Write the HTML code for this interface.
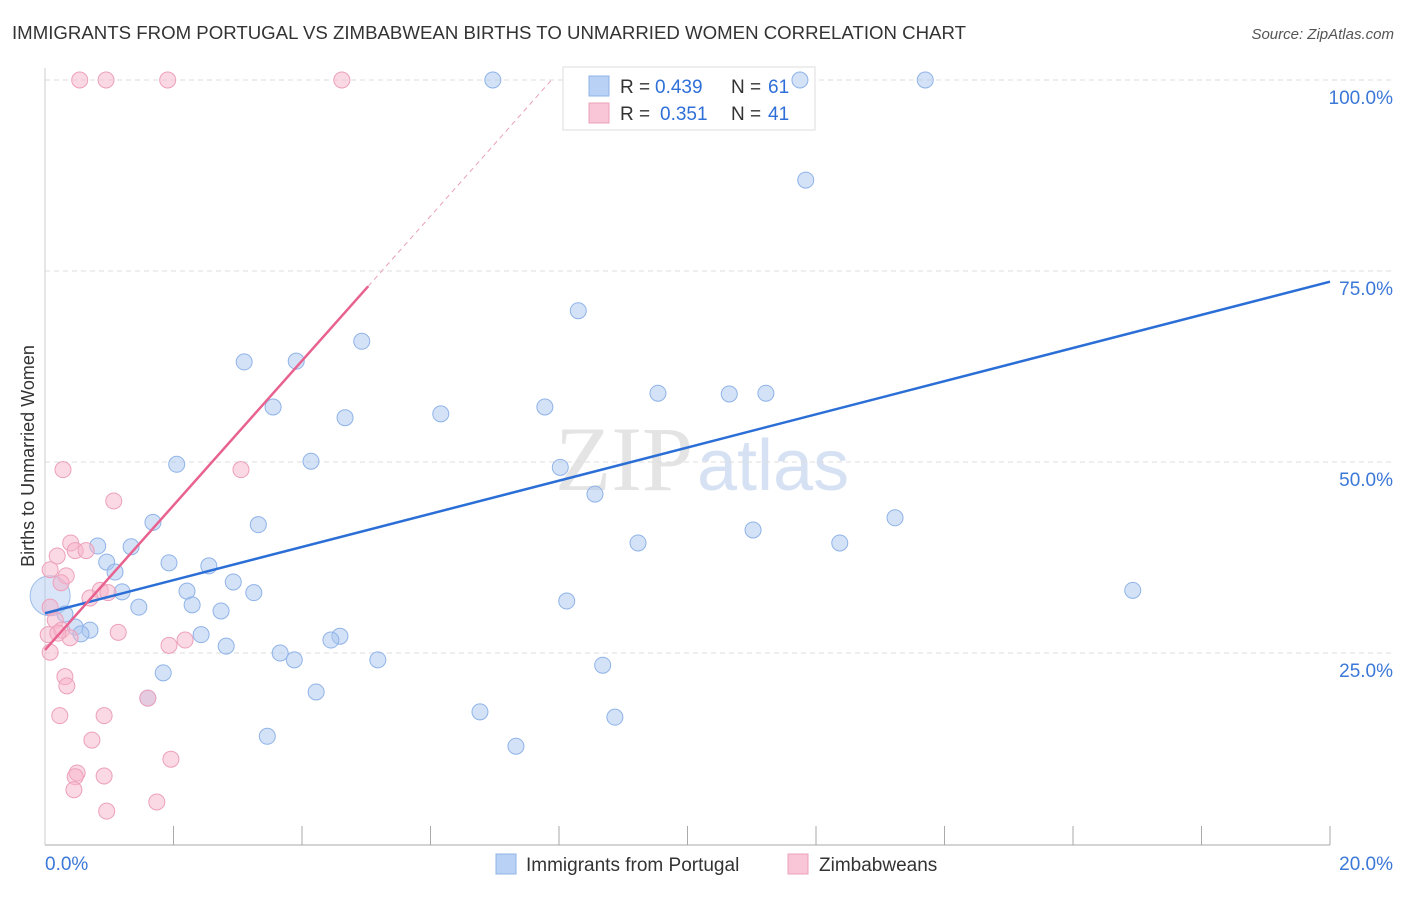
<!DOCTYPE html>
<html><head><meta charset="utf-8"><style>
body{margin:0;background:#fff;font-family:"Liberation Sans",sans-serif;}
</style></head><body>
<svg id="chart" width="1406" height="892" xmlns="http://www.w3.org/2000/svg" font-family="Liberation Sans, sans-serif">
<text x="12" y="39" font-size="18" fill="#333" textLength="954" lengthAdjust="spacingAndGlyphs">IMMIGRANTS FROM PORTUGAL VS ZIMBABWEAN BIRTHS TO UNMARRIED WOMEN CORRELATION CHART</text>
<text x="1394" y="39" font-size="15" fill="#555" text-anchor="end" font-style="italic">Source: ZipAtlas.com</text>
<text x="555" y="490" font-size="92" fill="#e4e4e4" font-family="Liberation Serif, serif">ZIP<tspan fill="#d6e2f3" font-family="Liberation Sans, sans-serif" font-size="72" dx="4">atlas</tspan></text>
<text transform="translate(34,456) rotate(-90)" font-size="18" fill="#333" text-anchor="middle">Births to Unmarried Women</text>
<g id="grid"></g>
<g>
<rect x="563" y="67" width="252" height="63" fill="#fff" stroke="#ddd"/>
<rect x="589" y="76" width="20" height="20" fill="#b9d1f5" stroke="#8fb3e8"/>
<rect x="589" y="103" width="20" height="20" fill="#f8c6d6" stroke="#eda0bb"/>
<text x="620" y="93" font-size="19" fill="#333">R =</text>
<text x="655" y="93" font-size="19" fill="#2e6fd8">0.439</text>
<text x="731" y="93" font-size="19" fill="#333">N =</text>
<text x="768" y="93" font-size="19" fill="#2e6fd8">61</text>
<text x="620" y="120" font-size="19" fill="#333">R =</text>
<text x="660" y="120" font-size="19" fill="#2e6fd8">0.351</text>
<text x="731" y="120" font-size="19" fill="#333">N =</text>
<text x="768" y="120" font-size="19" fill="#2e6fd8">41</text>
</g>
<g id="marks"></g>
<g>
<rect x="496" y="854" width="20" height="20" fill="#b9d1f5" stroke="#8fb3e8"/>
<text x="526" y="871" font-size="19" fill="#333">Immigrants from Portugal</text>
<rect x="788" y="854" width="20" height="20" fill="#f8c6d6" stroke="#eda0bb"/>
<text x="819" y="871" font-size="19" fill="#333">Zimbabweans</text>
</g>
</svg>
<script>
const yTicks=[25,50,75,100];
const yTickLabels=["25.0%","50.0%","75.0%","100.0%"];
const xTicks=[2,4,6,8,10,12,14,16,18,20];
const blueX=[6.97,11.75,13.70,11.84,8.30,4.93,3.91,3.10,3.55,4.67,6.16,7.78,9.54,10.65,11.22,2.05,4.14,8.02,8.56,1.68,3.32,11.02,13.23,9.23,12.37,0.82,1.34,0.96,1.93,1.09,2.55,2.93,1.20,2.21,3.25,1.46,2.29,2.74,16.93,8.12,0.31,0.47,0.70,0.56,2.43,2.82,4.59,4.45,3.66,3.88,5.18,8.68,1.84,4.22,1.60,6.77,8.87,3.46,7.33];
const blueY=[100,100,100,86.9,69.8,65.8,63.2,63.1,57.2,55.8,56.3,57.2,59.0,58.9,59.0,49.7,50.1,49.3,45.8,42.1,41.8,41.1,42.7,39.4,39.4,39.0,38.9,36.9,36.8,35.6,36.4,34.3,33.0,33.1,32.9,31.0,31.3,30.5,33.2,31.8,30.1,28.4,28.0,27.5,27.4,25.9,27.2,26.7,25.0,24.1,24.1,23.4,22.4,19.9,19.1,17.3,16.6,14.1,12.8];
const pinkX=[0.54,0.95,1.91,4.62,0.28,3.05,1.07,0.40,0.19,0.47,0.64,0.08,0.33,0.25,0.86,0.70,0.98,0.08,0.16,0.26,0.05,0.39,0.20,1.14,2.18,1.93,0.08,0.31,0.34,0.23,0.92,0.73,1.60,1.96,0.50,0.92,0.47,0.45,1.74,0.96];
const pinkY=[100,100,100,100,49.0,49.0,44.9,39.4,37.7,38.4,38.4,35.9,35.1,34.2,33.2,32.2,32.9,31.0,29.3,28.0,27.4,27.0,27.6,27.7,26.7,26.0,25.1,21.9,20.7,16.8,16.8,13.6,19.1,11.1,9.3,8.9,8.8,7.1,5.5,4.3];
const blueTrend=[30.2,73.6];
const pinkTrend=[25.4,73.0];
const pinkTrendEnd=5.03;
const NS="http://www.w3.org/2000/svg";
const sx=v=>45+v*64.25, sy=v=>844-v*7.64;
function mk(parent,tag,attrs){const e=document.createElementNS(NS,tag);for(const k in attrs)e.setAttribute(k,attrs[k]);parent.appendChild(e);return e;}
const grid=document.getElementById('grid'), marks=document.getElementById('marks');
yTicks.forEach((t,i)=>{
 const l=mk(grid,'line',{x1:45,x2:1393,y1:sy(t),y2:sy(t),stroke:'#ddd','stroke-dasharray':'5,4'});
 
 
 const tx=mk(grid,'text',{x:1393,y:sy(t)+24,'font-size':19,fill:'#3b78d8','text-anchor':'end'});
 tx.textContent=yTickLabels[i];
 
 
});
const ax=mk(grid,'line',{x1:45,x2:1330,y1:845,y2:845,stroke:'#aaa'});


const ay=mk(grid,'line',{x1:45,x2:45,y1:68,y2:845,stroke:'#ccc'});


xTicks.forEach(t=>{
 const l=mk(grid,'line',{x1:sx(t),x2:sx(t),y1:826,y2:845,stroke:'#aaa'});
 
 
});
const x0=mk(grid,'text',{x:45,y:870,'font-size':19,fill:'#3b78d8'});x0.textContent='0.0%';


const x1=mk(grid,'text',{x:1393,y:870,'font-size':19,fill:'#3b78d8','text-anchor':'end'});x1.textContent='20.0%';


const big=mk(marks,'circle',{cx:sx(0.08),cy:sy(32.5),r:20,fill:'rgba(170,198,240,0.45)',stroke:'#9dbde9'});


blueX.forEach((v,i)=>{
 const c=mk(marks,'circle',{cx:sx(v),cy:sy(blueY[i]),r:8,fill:'rgba(170,198,240,0.5)',stroke:'#8fb3e8','stroke-width':1});
 
 
});
pinkX.forEach((v,i)=>{
 const c=mk(marks,'circle',{cx:sx(v),cy:sy(pinkY[i]),r:8,fill:'rgba(246,180,202,0.5)',stroke:'#eda0bb','stroke-width':1});
 
 
});
const bt=mk(marks,'line',{x1:sx(0),y1:sy(blueTrend[0]),x2:sx(20),y2:sy(blueTrend[1]),stroke:'#2b6fd6','stroke-width':2.5});


const slope=(pinkTrend[1]-pinkTrend[0])/pinkTrendEnd;
const pt=mk(marks,'line',{x1:sx(0),y1:sy(pinkTrend[0]),x2:sx(pinkTrendEnd),y2:sy(pinkTrend[1]),stroke:'#e8628f','stroke-width':2.5});


const xe=(100-pinkTrend[0])/slope;
const pd=mk(marks,'line',{x1:sx(pinkTrendEnd),y1:sy(pinkTrend[1]),x2:sx(xe),y2:sy(100),stroke:'#e8a0b8','stroke-width':1,'stroke-dasharray':'5,4'});


</script>
</body></html>
